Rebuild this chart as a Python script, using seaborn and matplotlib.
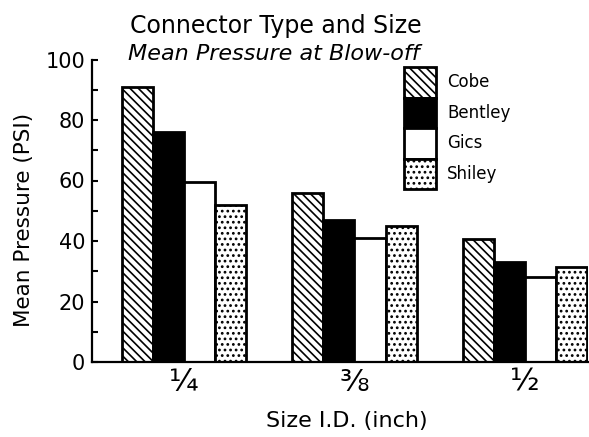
import matplotlib
matplotlib.use("Agg")
import matplotlib.pyplot as plt
import seaborn as sns
import pandas as pd
from matplotlib.patches import Patch
from matplotlib.ticker import MultipleLocator

# ---- data ----
sizes = ["¼", "⅜", "½"]
brands = ["Cobe", "Bentley", "Gics", "Shiley"]
cobe = [91, 56, 40.5]
bentley = [76, 47, 33]
gics = [59.5, 41, 28]
shiley = [52, 45, 31.5]

# ---- styles ----
facecolors = {"Cobe": "white", "Bentley": "black", "Gics": "white", "Shiley": "white"}
hatches = {"Cobe": "\\\\\\\\", "Bentley": "", "Gics": "", "Shiley": "..."}

sns.set_theme(style="white", rc={
    "text.color": "black", "axes.labelcolor": "black",
    "xtick.color": "black", "ytick.color": "black",
    "axes.edgecolor": "black",
})
plt.rcParams["font.family"] = ["DejaVu Sans"]
plt.rcParams["hatch.linewidth"] = 1.2
plt.rcParams["hatch.color"] = "black"

df = pd.DataFrame({
    "size": sizes * 4,
    "brand": [b for b in brands for _ in sizes],
    "pressure": cobe + bentley + gics + shiley,
})

W, H = 589, 437
fig = plt.figure(figsize=(W / 100, H / 100), dpi=100)
ax = fig.add_axes([92 / W, 1 - 362 / H, (588 - 92) / W, (362 - 59.5) / H])

sns.barplot(data=df, x="size", y="pressure", hue="brand", order=sizes,
            hue_order=brands, palette=facecolors, width=0.73, gap=0,
            edgecolor="black", linewidth=2, saturation=1, legend=False,
            errorbar=None, ax=ax)

for cont, b in zip(ax.containers, brands):
    for p in cont:
        p.set_hatch(hatches[b])
        p.set_edgecolor("black")

ax.set_xlim(-0.54, 2.37)
ax.set_ylim(0, 100)
ax.set_yticks(range(0, 101, 20))
ax.yaxis.set_minor_locator(MultipleLocator(10))
for s in ["top", "right"]:
    ax.spines[s].set_visible(False)
for s in ["left", "bottom"]:
    ax.spines[s].set_linewidth(1.6)
    ax.spines[s].set_color("black")

ax.tick_params(axis="y", which="both", direction="in", length=4.5, width=1.5,
               left=True, labelsize=15, pad=5)
ax.tick_params(axis="x", length=0, labelsize=22, pad=4)

ax.set_ylabel("Mean Pressure (PSI)", fontsize=15.5)
ax.yaxis.set_label_coords((34 - 92) / 496, (362 - 219.5) / 302.5)
ax.set_xlabel("Size I.D. (inch)", fontsize=16)
ax.xaxis.set_label_coords((347 - 92) / 496, (362 - 411) / 302.5)

fig.text(275.5 / W, 1 - 25.5 / H, "Connector Type and Size", fontsize=17,
         ha="center", va="center")
fig.text(273.5 / W, 1 - 54.5 / H, "Mean Pressure at Blow-off", fontsize=16,
         style="italic", ha="center", va="center")

handles = [Patch(facecolor=facecolors[b], edgecolor="black", hatch=hatches[b],
                 linewidth=2, label=b) for b in brands]
ax.legend(handles=handles, loc="upper left",
          bbox_to_anchor=(404 / W, 1 - 67 / H), bbox_transform=fig.transFigure,
          frameon=False, fontsize=12, handleheight=2.44, handlelength=1.92,
          handletextpad=0.66, labelspacing=0, borderpad=0, borderaxespad=0)

fig.savefig("out.png", dpi=100)
